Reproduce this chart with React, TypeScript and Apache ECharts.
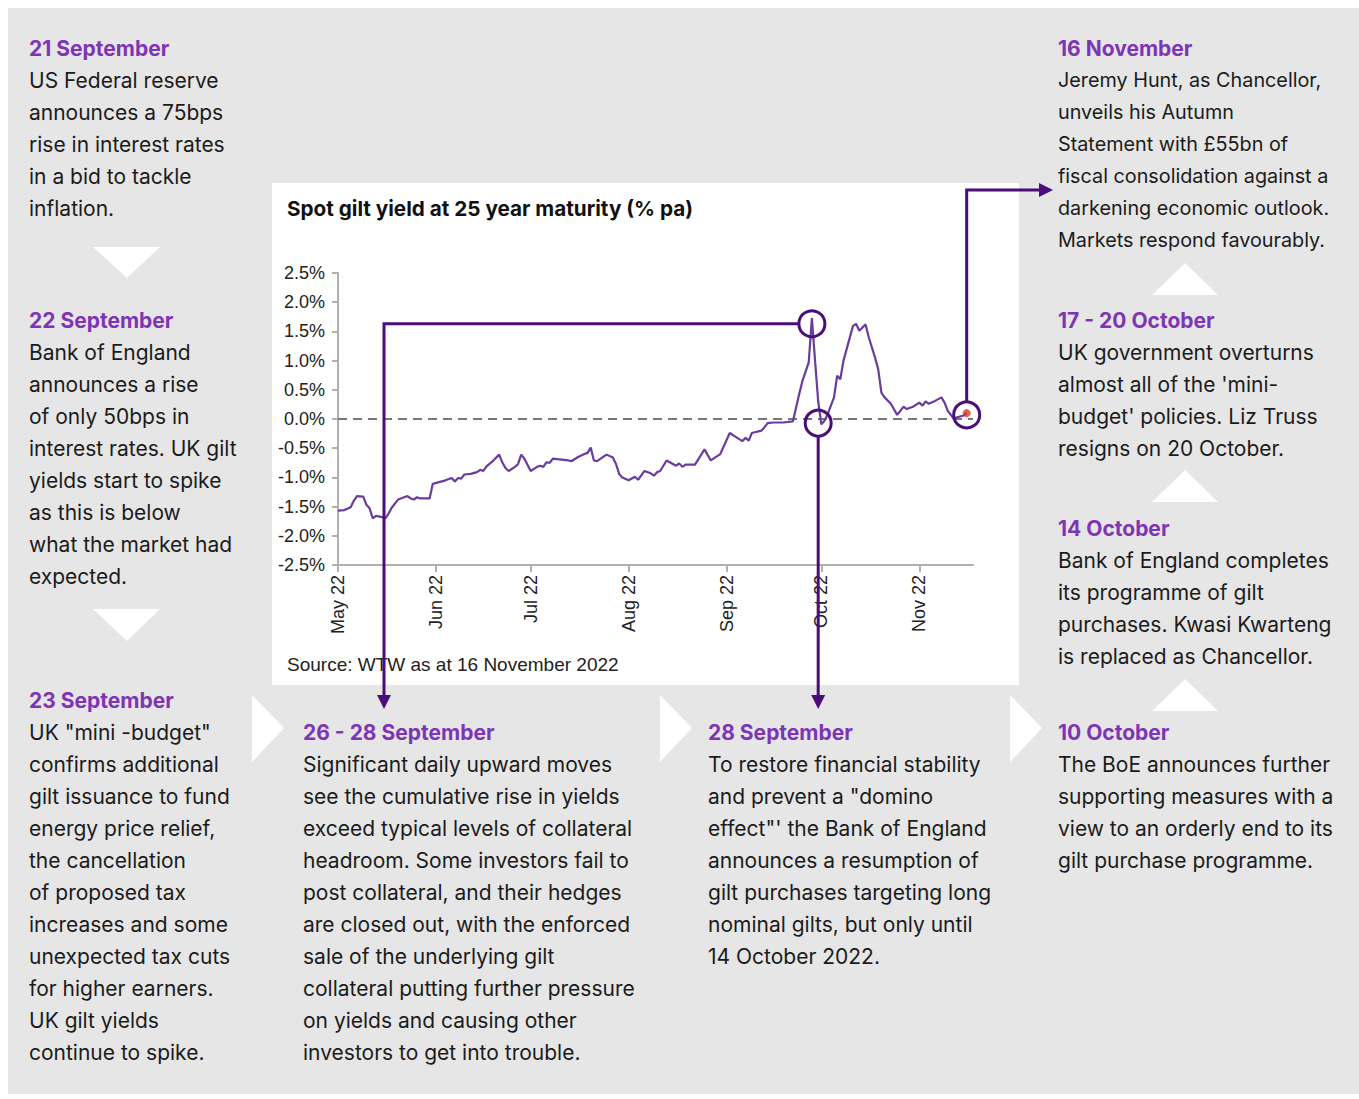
import React, { useEffect, useRef } from "react";
import * as echarts from "echarts";

// ---------- data ----------
const dates = [
  "2022-05-01", "2022-05-03", "2022-05-05", "2022-05-06", "2022-05-07", "2022-05-09", "2022-05-10", "2022-05-11",
  "2022-05-12", "2022-05-13", "2022-05-15", "2022-05-16", "2022-05-17", "2022-05-18", "2022-05-20", "2022-05-23",
  "2022-05-24", "2022-05-25", "2022-05-26", "2022-05-27", "2022-05-30", "2022-05-31",
  "2022-06-02", "2022-06-04", "2022-06-06", "2022-06-07", "2022-06-08", "2022-06-09", "2022-06-10", "2022-06-12",
  "2022-06-14", "2022-06-15", "2022-06-16", "2022-06-17", "2022-06-19", "2022-06-21", "2022-06-22", "2022-06-23",
  "2022-06-24", "2022-06-26", "2022-06-27", "2022-06-28", "2022-06-29",
  "2022-07-01", "2022-07-03", "2022-07-04", "2022-07-05", "2022-07-06", "2022-07-07", "2022-07-08", "2022-07-10",
  "2022-07-13", "2022-07-14", "2022-07-16", "2022-07-18", "2022-07-19", "2022-07-20", "2022-07-21", "2022-07-22",
  "2022-07-25", "2022-07-27", "2022-07-28", "2022-07-29", "2022-07-30",
  "2022-08-01", "2022-08-03", "2022-08-04", "2022-08-06", "2022-08-08", "2022-08-09", "2022-08-10", "2022-08-11",
  "2022-08-12", "2022-08-13", "2022-08-16", "2022-08-17", "2022-08-18", "2022-08-19", "2022-08-22", "2022-08-25",
  "2022-08-27", "2022-08-30",
  "2022-09-02", "2022-09-04", "2022-09-06", "2022-09-07", "2022-09-08", "2022-09-09", "2022-09-12", "2022-09-13",
  "2022-09-14", "2022-09-16", "2022-09-19", "2022-09-22", "2022-09-24", "2022-09-25", "2022-09-27", "2022-09-28",
  "2022-09-29", "2022-09-30",
  "2022-10-01", "2022-10-02", "2022-10-03", "2022-10-05", "2022-10-06", "2022-10-07", "2022-10-08", "2022-10-11",
  "2022-10-12", "2022-10-13", "2022-10-15", "2022-10-16", "2022-10-18", "2022-10-19", "2022-10-20", "2022-10-21",
  "2022-10-23", "2022-10-25", "2022-10-27", "2022-10-28", "2022-10-30",
  "2022-11-01", "2022-11-02", "2022-11-03", "2022-11-04", "2022-11-06", "2022-11-08", "2022-11-09", "2022-11-10",
  "2022-11-12", "2022-11-13", "2022-11-15", "2022-11-16",
];
const yields = [
  -1.57, -1.56, -1.51, -1.40, -1.32, -1.33, -1.47, -1.53,
  -1.70, -1.66, -1.68, -1.70, -1.62, -1.52, -1.38, -1.32,
  -1.36, -1.38, -1.34, -1.36, -1.36, -1.11,
  -1.08, -1.05, -1.01, -1.07, -1.01, -1.02, -0.95, -0.94,
  -0.91, -0.87, -0.89, -0.81, -0.72, -0.61, -0.74, -0.84,
  -0.89, -0.82, -0.77, -0.61, -0.68,
  -0.89, -0.82, -0.80, -0.82, -0.74, -0.75, -0.68, -0.69,
  -0.71, -0.72, -0.65, -0.60, -0.58, -0.49, -0.71, -0.72,
  -0.61, -0.66, -0.77, -0.94, -1.00,
  -1.05, -0.99, -1.04, -0.89, -0.93, -0.97, -0.91, -0.89,
  -0.80, -0.71, -0.80, -0.76, -0.82, -0.78, -0.78, -0.52,
  -0.71, -0.60,
  -0.24, -0.31, -0.38, -0.32, -0.37, -0.24, -0.20, -0.14,
  -0.07, -0.06, -0.06, -0.04, 0.43, 0.65, 0.97, 1.73,
  1.00, 0.30,
  -0.09, -0.03, 0.085, 0.37, 0.74, 0.68, 1.00, 1.59,
  1.63, 1.51, 1.62, 1.40, 1.05, 0.85, 0.45, 0.37,
  0.26, 0.07, 0.21, 0.17, 0.21,
  0.28, 0.23, 0.30, 0.26, 0.31, 0.37, 0.28, 0.14,
  0.00, 0.03, 0.06, 0.10,
];
const monthTicks = ["2022-05-01", "2022-06-01", "2022-07-01", "2022-08-01", "2022-09-01", "2022-10-01", "2022-11-01"];
const monthLabels = ["May 22", "Jun 22", "Jul 22", "Aug 22", "Sep 22", "Oct 22", "Nov 22"];
const axisStart = "2022-05-01";
const axisEnd = "2022-11-18";
const yMin = -2.5;
const yMax = 2.5;
const yStep = 0.5;

// points circled on the chart (peak, trough after BoE intervention, Autumn Statement)
const annotationDates = ["2022-09-28", "2022-09-30", "2022-11-16"];
const annotationValues = [1.63, -0.07, 0.07];

const chartTitle = "Spot gilt yield at 25 year maturity (% pa)";
const sourceText = "Source: WTW as at 16 November 2022";

// ---------- text blocks ----------
type Block = { x: number; y: number; title: string; lines: string[]; size?: number };
const blocks: Block[] = [
  { x: 29, y: 48, title: "21 September", lines: ["US Federal reserve", "announces a 75bps", "rise in interest rates", "in a bid to tackle", "inflation."] },
  { x: 29, y: 320, title: "22 September", lines: ["Bank of England", "announces a rise", "of only 50bps in", "interest rates. UK gilt", "yields start to spike", "as this is below", "what the market had", "expected."] },
  { x: 29, y: 700, title: "23 September", lines: ["UK \"mini -budget\"", "confirms additional", "gilt issuance to fund", "energy price relief,", "the cancellation", "of proposed tax", "increases and some", "unexpected tax cuts", "for higher earners.", "UK gilt yields", "continue to spike."] },
  { x: 303, y: 732, title: "26 - 28 September", lines: ["Significant daily upward moves", "see the cumulative rise in yields", "exceed typical levels of collateral", "headroom. Some investors fail to", "post collateral, and their hedges", "are closed out, with the enforced", "sale of the underlying gilt", "collateral putting further pressure", "on yields and causing other", "investors to get into trouble."] },
  { x: 708, y: 732, title: "28 September", lines: ["To restore financial stability", "and prevent a \"domino", "effect\"' the Bank of England", "announces a resumption of", "gilt purchases targeting long", "nominal gilts, but only until", "14 October 2022."] },
  { x: 1058, y: 48, title: "16 November", size: 19.8, lines: ["Jeremy Hunt, as Chancellor,", "unveils his Autumn", "Statement with £55bn of", "fiscal consolidation against a", "darkening economic outlook.", "Markets respond favourably."] },
  { x: 1058, y: 320, title: "17 - 20 October", lines: ["UK government overturns", "almost all of the 'mini-", "budget' policies. Liz Truss", "resigns on 20 October."] },
  { x: 1058, y: 528, title: "14 October", lines: ["Bank of England completes", "its programme of gilt", "purchases. Kwasi Kwarteng", "is replaced as Chancellor."] },
  { x: 1058, y: 732, title: "10 October", lines: ["The BoE announces further", "supporting measures with a", "view to an orderly end to its", "gilt purchase programme."] },
];

const toTime = (s: string) => {
  const [y, m, d] = s.split("-").map(Number);
  return new Date(y, m - 1, d).getTime();
};

const PURPLE_HEAD = "#7e35b5";
const LINE_COLOR = "#6a3c9e";
const ANNOT = "#4b0e79";
const BODY = "#1b1b1b";
const TEXT_FONT = "Inter, 'Noto Sans', sans-serif";
const AXIS_FONT = "'Liberation Sans', Arial, sans-serif";

export default function App() {
  const ref = useRef<HTMLDivElement>(null);

  useEffect(() => {
    if (!ref.current) return;
    const chart = echarts.init(ref.current, undefined, { renderer: "svg" });
    const tickTimes = monthTicks.map(toTime);
    const seriesData = dates.map((d, i) => [toTime(d), yields[i]]);
    const last = seriesData[seriesData.length - 1];

    chart.setOption({
      animation: false,
      grid: { left: 338, right: 386, top: 273, bottom: 534, containLabel: false },
      xAxis: {
        type: "value",
        min: toTime(axisStart),
        max: toTime(axisEnd),
        axisLine: { onZero: false, lineStyle: { color: "#b0b0b0", width: 2 } },
        axisTick: { show: true, customValues: tickTimes, length: 7, lineStyle: { color: "#b0b0b0", width: 2 } },
        axisLabel: {
          customValues: tickTimes,
          rotate: 90,
          margin: 10,
          fontSize: 18,
          fontFamily: AXIS_FONT,
          color: "#222",
          hideOverlap: false,
          formatter: (v: number) => {
            const i = tickTimes.indexOf(v);
            return i >= 0 ? monthLabels[i] : "";
          },
        },
        splitLine: { show: false },
      },
      yAxis: {
        type: "value",
        min: yMin,
        max: yMax,
        interval: yStep,
        axisLine: { show: true, onZero: false, lineStyle: { color: "#b0b0b0", width: 2 } },
        axisTick: { show: true, length: 6, lineStyle: { color: "#b0b0b0", width: 2 } },
        axisLabel: {
          margin: 13,
          fontSize: 18,
          fontFamily: AXIS_FONT,
          color: "#222",
          formatter: (v: number) => `${(Math.abs(v) < 1e-9 ? 0 : v).toFixed(1)}%`,
        },
        splitLine: { show: false },
      },
      series: [
        {
          type: "line",
          data: seriesData,
          showSymbol: false,
          symbol: "none",
          lineStyle: { color: LINE_COLOR, width: 2.2 },
          z: 3,
          markLine: {
            silent: true,
            symbol: ["none", "none"],
            label: { show: false },
            lineStyle: { type: [9, 6], color: "#777", width: 2 },
            data: [{ yAxis: 0 }],
            z: 2,
          },
        },
        {
          type: "scatter",
          data: [last],
          symbolSize: 8,
          itemStyle: { color: "#d9342b" },
          z: 5,
        },
      ],
    });

    const px = (i: number) =>
      chart.convertToPixel({ seriesIndex: 0 }, [toTime(annotationDates[i]), annotationValues[i]]) as number[];
    const p1 = px(0);
    const p2 = px(1);
    const p3 = px(2);
    const R = 13;
    const annStyle = { stroke: ANNOT, lineWidth: 3, fill: "none" };

    const elements: any[] = [
      { type: "rect", z: -10, shape: { x: 8, y: 8, width: 1351, height: 1086 }, style: { fill: "#e6e6e6" } },
      { type: "rect", z: -9, shape: { x: 272, y: 183, width: 747, height: 502 }, style: { fill: "#ffffff" } },
      // chevrons
      { type: "polygon", z: -8, shape: { points: [[93, 247], [160, 247], [127, 278]] }, style: { fill: "#fff" } },
      { type: "polygon", z: -8, shape: { points: [[93, 609], [160, 609], [127, 641]] }, style: { fill: "#fff" } },
      { type: "polygon", z: -8, shape: { points: [[252, 695], [284, 728], [252, 762]] }, style: { fill: "#fff" } },
      { type: "polygon", z: -8, shape: { points: [[660, 695], [692, 728], [660, 762]] }, style: { fill: "#fff" } },
      { type: "polygon", z: -8, shape: { points: [[1010, 695], [1042, 728], [1010, 762]] }, style: { fill: "#fff" } },
      { type: "polygon", z: -8, shape: { points: [[1152, 295], [1218, 295], [1185, 263]] }, style: { fill: "#fff" } },
      { type: "polygon", z: -8, shape: { points: [[1152, 502], [1218, 502], [1185, 470]] }, style: { fill: "#fff" } },
      { type: "polygon", z: -8, shape: { points: [[1152, 711], [1218, 711], [1185, 679]] }, style: { fill: "#fff" } },
      // chart title and source
      {
        type: "text", z: 5, x: 287, y: 208,
        style: { text: chartTitle, fontFamily: TEXT_FONT, fontSize: 20.7, fontWeight: 700, fill: "#111", verticalAlign: "middle", align: "left" },
      },
      {
        type: "text", z: 5, x: 287, y: 664,
        style: { text: sourceText, fontFamily: AXIS_FONT, fontSize: 19, fill: "#222", verticalAlign: "middle", align: "left" },
      },
    ];

    blocks.forEach((b) => {
      elements.push({
        type: "text", z: 5, x: b.x, y: b.y - 16,
        style: { text: b.title, fontFamily: TEXT_FONT, fontSize: 21, fontWeight: 700, fill: PURPLE_HEAD, lineHeight: 32, verticalAlign: "top", align: "left" },
      });
      elements.push({
        type: "text", z: 5, x: b.x, y: b.y + 16,
        style: { text: b.lines.join("\n"), fontFamily: TEXT_FONT, fontSize: b.size ?? 21, fill: BODY, lineHeight: 32, verticalAlign: "top", align: "left" },
      });
    });

    // annotations linked to data points
    elements.push(
      { type: "circle", z: 50, shape: { cx: p1[0], cy: p1[1], r: R }, style: annStyle },
      { type: "circle", z: 50, shape: { cx: p2[0], cy: p2[1], r: R }, style: annStyle },
      { type: "circle", z: 50, shape: { cx: p3[0], cy: p3[1], r: R }, style: annStyle },
      { type: "polyline", z: 50, shape: { points: [[p1[0] - R, p1[1]], [384, p1[1]], [384, 696]] }, style: annStyle },
      { type: "polygon", z: 50, shape: { points: [[377, 695], [391, 695], [384, 709]] }, style: { fill: ANNOT } },
      { type: "polyline", z: 50, shape: { points: [[p2[0], p2[1] + R], [p2[0], 696]] }, style: annStyle },
      { type: "polygon", z: 50, shape: { points: [[p2[0] - 7, 695], [p2[0] + 7, 695], [p2[0], 709]] }, style: { fill: ANNOT } },
      { type: "polyline", z: 50, shape: { points: [[p3[0], p3[1] - R], [p3[0], 190], [1041, 190]] }, style: annStyle },
      { type: "polygon", z: 50, shape: { points: [[1039, 183], [1039, 197], [1053, 190]] }, style: { fill: ANNOT } },
    );

    chart.setOption({ graphic: { elements } });

    return () => chart.dispose();
  }, []);

  return (
    <div
      ref={ref}
      style={{ position: "absolute", left: 0, top: 0, width: 1359, height: 1099 }}
    />
  );
}
